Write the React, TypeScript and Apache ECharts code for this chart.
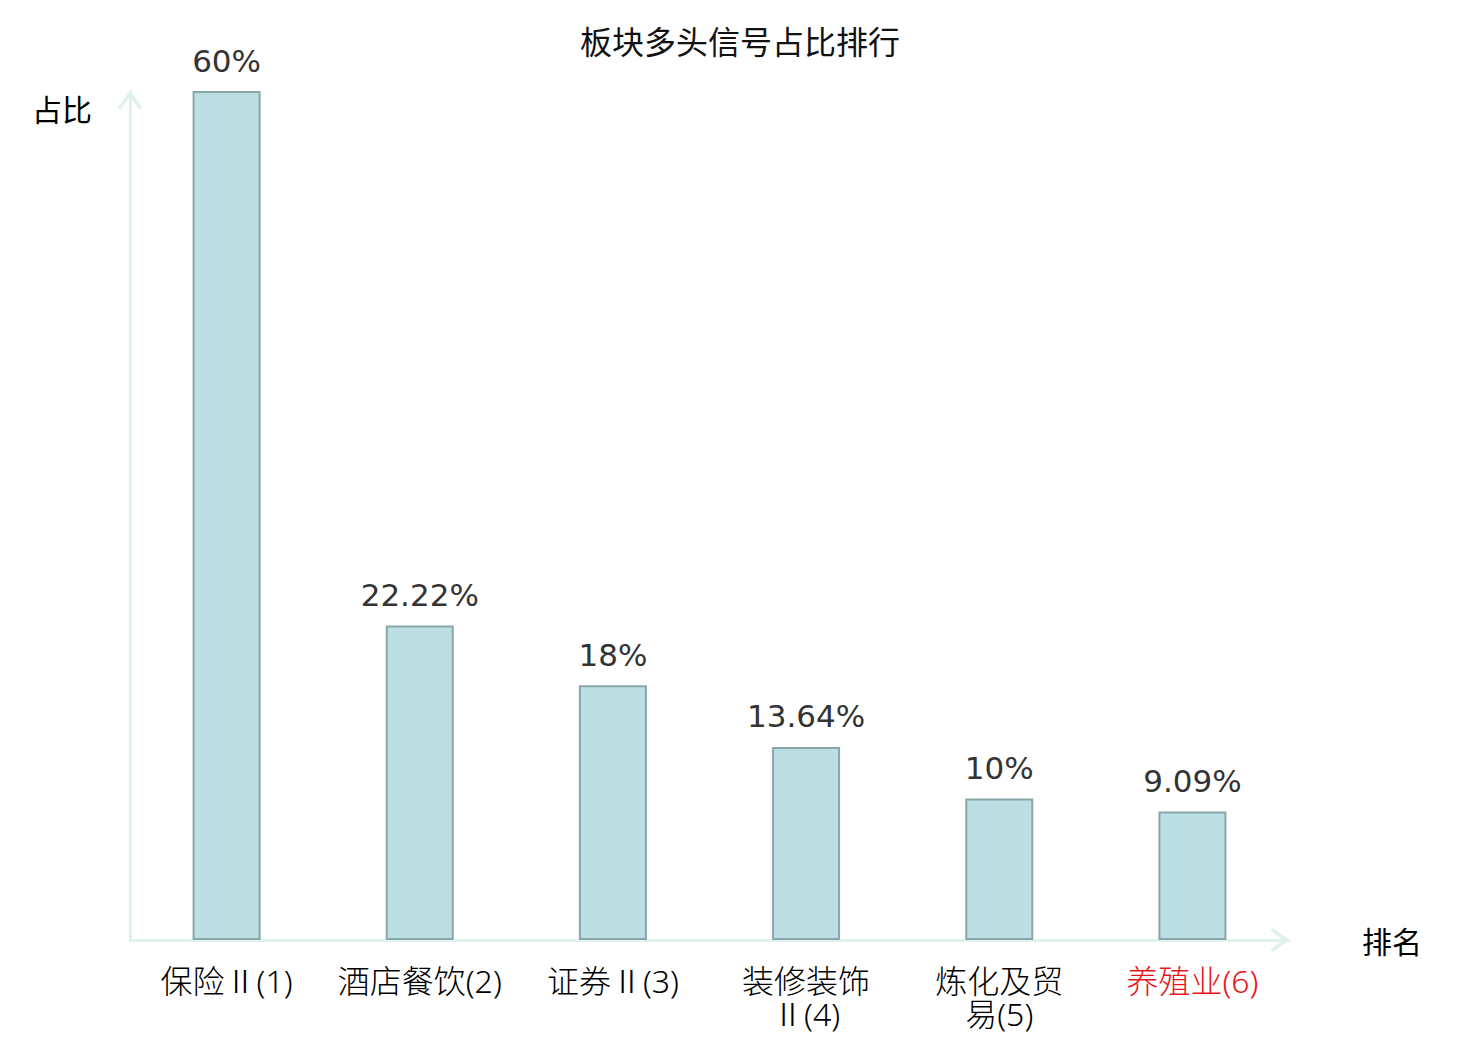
import React, { useEffect, useRef } from "react";
import * as echarts from "echarts";

const chartTitle = "板块多头信号占比排行";
const categories = ["保险Ⅱ", "酒店餐饮", "证券Ⅱ", "装修装饰Ⅱ", "炼化及贸易", "养殖业"];
const ranks = [1, 2, 3, 4, 5, 6];
const values = [60, 22.22, 18, 13.64, 10, 9.09];
const highlighted = ["养殖业"];
const yAxisName = "占比";
const xAxisName = "排名";

const CJK = "'Noto Sans CJK SC', sans-serif";
const LABEL_FONT = "'Noto Sans', 'Noto Sans CJK SC', sans-serif";
const chevron = "path://M12 0 L24 17 L21.4 19.5 L12 6.6 L2.6 19.5 L0 17 Z";

function wrapName(name: string, size: number): string {
  const parts: string[] = [];
  for (let i = 0; i < name.length; i += size) parts.push(name.slice(i, i + size));
  return parts.join("\n");
}

export default function App() {
  const ref = useRef<HTMLDivElement>(null);
  useEffect(() => {
    document.body.style.margin = "0";
    if (!ref.current) return;
    const chart = echarts.init(ref.current, null, { renderer: "svg" });
    const axisColor = "#dff2ef";
    chart.setOption({
      animation: false,
      backgroundColor: "#ffffff",
      title: {
        text: chartTitle,
        left: "center",
        top: 24,
        padding: 0,
        textStyle: { fontSize: 32, fontWeight: "normal", color: "#111", fontFamily: CJK },
      },
      grid: { left: 130, right: 191, top: 91, bottom: 100, containLabel: false },
      xAxis: {
        type: "category",
        data: categories,
        boundaryGap: true,
        name: xAxisName,
        nameLocation: "end",
        nameGap: 73,
        nameTextStyle: { fontSize: 30, color: "#000", fontFamily: CJK },
        axisLine: {
          show: true,
          symbol: ["none", chevron],
          symbolSize: [24, 20],
          symbolOffset: [0, -9],
          lineStyle: { color: axisColor, width: 3 },
        },
        axisTick: { show: false },
        axisLabel: {
          interval: 0,
          margin: 24,
          fontSize: 32,
          lineHeight: 33,
          fontWeight: 300,
          fontFamily: LABEL_FONT,
          color: (value: string) => (highlighted.includes(value) ? "#e8141a" : "#000"),
          formatter: (value: string, index: number) => wrapName(value, 4) + "(" + ranks[index] + ")",
        },
      },
      yAxis: {
        type: "value",
        min: 0,
        max: 60,
        name: yAxisName,
        nameLocation: "end",
        nameGap: -17,
        nameTextStyle: {
          fontSize: 30,
          color: "#000",
          fontFamily: CJK,
          align: "right",
          verticalAlign: "middle",
          padding: [0, 38, 0, 0],
        },
        axisLine: {
          show: true,
          symbol: ["none", chevron],
          symbolSize: [24, 20],
          symbolOffset: [0, -9],
          lineStyle: { color: axisColor, width: 3 },
        },
        axisTick: { show: false },
        axisLabel: { show: false },
        splitLine: { show: false },
      },
      series: [
        {
          type: "bar",
          data: values,
          barWidth: 68,
          itemStyle: { color: "#bbdfe2", borderColor: "#8aa6a8", borderWidth: 2 },
          label: {
            show: true,
            position: "top",
            distance: 15,
            fontSize: 31,
            color: "#333",
            fontFamily: "'DejaVu Sans', sans-serif",
            formatter: "{c}%",
          },
        },
      ],
    });
    return () => chart.dispose();
  }, []);
  return <div ref={ref} style={{ width: 1480, height: 1040 }} />;
}
